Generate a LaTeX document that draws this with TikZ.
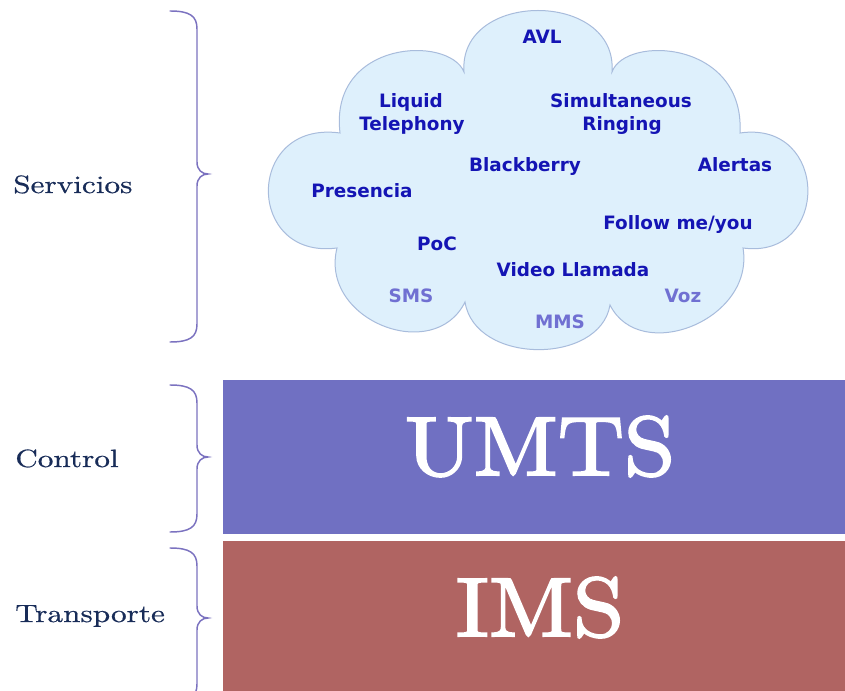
\documentclass[tikz,border=0pt]{standalone}
\usepackage{fontspec}
\newfontfamily\cloudfont{DejaVu Sans}
\newfontfamily\labfont[FakeStretch=1.25,FakeBold=0.6]{lmroman10-regular.otf}
\newfontfamily\bigfont[FakeStretch=1.1,FakeBold=2.5]{lmroman10-regular.otf}
\definecolor{cloudfill}{HTML}{DEF0FC}
\definecolor{cloudline}{HTML}{A8BCDC}
\definecolor{cloudtxt}{HTML}{1414B4}
\definecolor{cloudtxtlight}{HTML}{7070D2}
\definecolor{navytxt}{HTML}{182C58}
\definecolor{bracecol}{HTML}{7B72C0}
\definecolor{umtscol}{HTML}{7070C2}
\definecolor{imscol}{HTML}{B06462}
\newcommand\layerbrace[3]{%
  \draw[bracestyle] (170,#1) .. controls (190,#1) and (197,#1+5) .. (197,#1+18)
    -- (197,#2-12) .. controls (197,#2-4) and (202,#2) .. (208,#2)
    .. controls (202,#2) and (197,#2+4) .. (197,#2+12)
    -- (197,#3-18) .. controls (197,#3-5) and (190,#3) .. (170,#3);}
\begin{document}
\begin{tikzpicture}[x=0.75pt,y=-0.75pt,
  ctext/.style={font=\cloudfont\bfseries\fontsize{13.8}{14}\selectfont, text=cloudtxt, anchor=base, inner sep=0pt},
  ctextlight/.style={ctext, text=cloudtxtlight},
  lab/.style={font=\labfont\fontsize{18.75}{20}\selectfont, text=navytxt, anchor=base west, inner sep=0pt},
  bigtxt/.style={font=\bigfont\fontsize{62.6}{64}\selectfont, text=white, anchor=base, inner sep=0pt},
  bracestyle/.style={draw=bracecol, line width=1.1pt, line cap=round}]
\useasboundingbox (0,0) rectangle (845,691);
\fill[white] (0,0) rectangle (845,691);
% layers
\fill[umtscol] (223,380) rectangle (845,534);
\fill[imscol] (223,541) rectangle (845,691);
\node[bigtxt] (umts) at (540,475) {UMTS};
\node[bigtxt] (ims) at (540,636) {IMS};
% cloud
\coordinate (j1) at (464,72);
\coordinate (j2) at (612,72);
\coordinate (j3) at (740,133);
\coordinate (j4) at (743,248);
\coordinate (j5) at (610,305);
\coordinate (j6) at (465,302);
\coordinate (j7) at (337,248);
\coordinate (j8) at (340,133);
\draw[fill=cloudfill, draw=cloudline, line width=0.75pt]
  (j1) .. controls (458,-10) and (618,-10) .. (j2)
       .. controls (625,35) and (745,40) .. (j3)
       .. controls (830,120) and (830,260) .. (j4)
       .. controls (755,320) and (640,365) .. (j5)
       .. controls (600,365) and (475,365) .. (j6)
       .. controls (434,365) and (319,320) .. (j7)
       .. controls (245,260) and (245,120) .. (j8)
       .. controls (329,40) and (449,35) .. (j1) -- cycle;
% cloud texts
\node[ctext] (avl) at (542,44) {AVL};
\node[ctext] (liq1) at (411,108) {Liquid};
\node[ctext] (liq2) at (412,131) {Telephony};
\node[ctext] (sim1) at (621,108) {Simultaneous};
\node[ctext] (sim2) at (622,131) {Ringing};
\node[ctext] (bb) at (525,172) {Blackberry};
\node[ctext] (alert) at (735,172) {Alertas};
\node[ctext] (pres) at (362,198) {Presencia};
\node[ctext] (follow) at (678,230) {Follow me/you};
\node[ctext] (poc) at (437,251) {PoC};
\node[ctext] (video) at (573,277) {Video Llamada};
\node[ctextlight] (sms) at (411,303) {SMS};
\node[ctextlight] (mms) at (560,329) {MMS};
\node[ctextlight] (voz) at (683,303) {Voz};
% left labels and braces
\node[lab] (serv) at (13,193) {Servicios};
\node[lab] (ctrl) at (15,467) {Control};
\node[lab] (trans) at (15,622) {Transporte};
\layerbrace{11}{174}{342}
\layerbrace{385}{457}{532}
\layerbrace{548}{618}{702}
\end{tikzpicture}
\end{document}
